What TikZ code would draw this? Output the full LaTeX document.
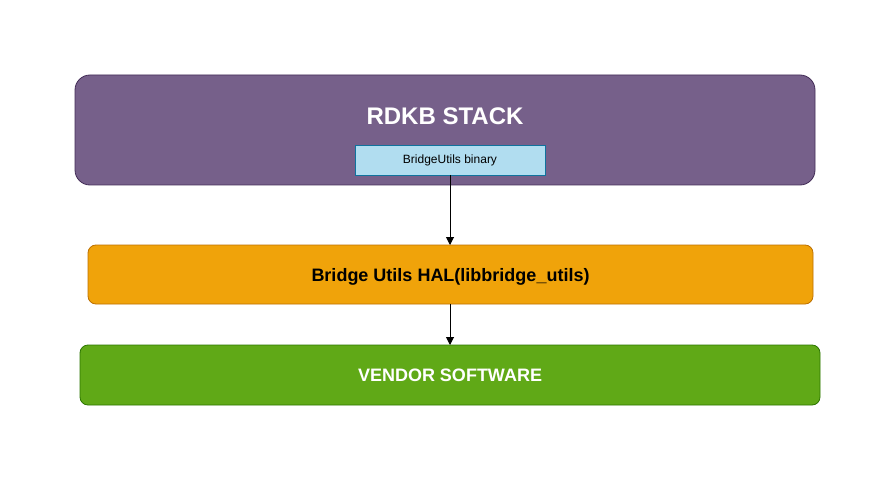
\documentclass[tikz,border=0pt]{standalone}
\usepackage{fontspec}
\setmainfont{Liberation Sans}
\usetikzlibrary{arrows.meta}
\definecolor{purfill}{HTML}{76608A}
\definecolor{purline}{HTML}{432D57}
\definecolor{bluefill}{HTML}{B1DDF0}
\definecolor{blueline}{HTML}{10739E}
\definecolor{orfill}{HTML}{F0A30A}
\definecolor{orline}{HTML}{BD7000}
\definecolor{grfill}{HTML}{60A917}
\definecolor{grline}{HTML}{2D7600}
\tikzset{
  box/.style={draw, line width=0.8pt, inner sep=0pt, outer sep=0pt},
  conn/.style={-{Triangle[length=8pt,width=8pt]}, line width=1pt}
}
\begin{document}
\begin{tikzpicture}[x=1pt,y=-1pt]
\useasboundingbox[fill=white] (0,0) rectangle (896,481);
\draw[box, fill=purfill, draw=purline, rounded corners=15pt] (75,75) rectangle (815,185);
\node[font=\bfseries\fontsize{24}{28}\selectfont, text=white] (stack) at (445,116) {RDKB STACK};
\node[box, fill=bluefill, draw=blueline, minimum width=190pt, minimum height=30pt, font=\fontsize{12}{14}\selectfont] (bin) at (450,160) {BridgeUtils binary};
\node[box, fill=orfill, draw=orline, rounded corners=8pt, minimum width=725pt, minimum height=59pt, text height=13pt, text depth=0pt, font=\bfseries\fontsize{18}{21}\selectfont] (hal) at (450.5,274.5) {Bridge Utils HAL(libbridge\_utils)};
\node[box, fill=grfill, draw=grline, rounded corners=8pt, minimum width=740pt, minimum height=60pt, font=\bfseries\fontsize{18}{21}\selectfont, text=white] (vendor) at (450,375) {VENDOR SOFTWARE};
\draw[conn] (bin.south) -- (bin.south |- hal.north);
\draw[conn] (bin.south |- hal.south) -- (bin.south |- vendor.north);
\end{tikzpicture}
\end{document}
